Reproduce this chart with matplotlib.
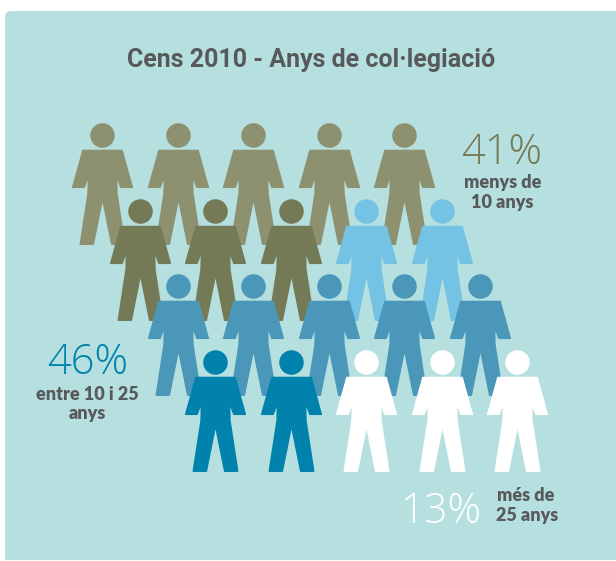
import matplotlib
matplotlib.use('Agg')
from matplotlib import pyplot as plt
from matplotlib.markers import MarkerStyle
from matplotlib.patches import FancyBboxPatch, Rectangle
from matplotlib.path import Path
from matplotlib.transforms import IdentityTransform

W, H = 616, 561

# rows of people, one colour per person, front row last
row_light_olive = ['#8e9170'] * 5
row_mixed = ['#747a56'] * 3 + ['#75c3e4'] * 2
row_mid_blue = ['#4a97ba'] * 5
row_front = ['#0082ac'] * 2 + ['#ffffff'] * 3
rows = [row_light_olive, row_mixed, row_mid_blue, row_front]

title = 'Cens 2010 - Anys de col·legiació'
pct_labels = ['41%', '46%', '13%']
pct_colors = ['#747a56', '#0082ac', '#ffffff']


def person_marker():
    # outline in pixels around the middle of the figure, y pointing up
    right = [(19.6, 34), (29.8, -2.8), (18.4, -2.8), (14, 9), (14.4, -9), (22.2, -59.7), (9.2, -59.7)]
    left = [(-x, y) for x, y in reversed(right)]
    body = Path(right + [(0, -14)] + left + [right[0]], closed=True)
    head = Path.circle((0, 49), 11.5)
    return Path.make_compound_path(body, head)


fig = plt.figure(figsize=(W / 100, H / 100), dpi=100, facecolor='white')
ax = fig.add_axes([0, 0, 1, 1])
# one unit is one column / one row of the grid
ax.set_xlim(-102 / 75.5, (W - 102) / 75.5)
ax.set_ylim((H - 184) / 75.7, -184 / 75.7)
ax.axis('off')

# panel in pixels from the lower left, only the top corners are rounded
panel_top = FancyBboxPatch((11, 1), 700, H - 18, boxstyle='round,pad=6,rounding_size=6',
                           fc='#b5e0df', ec='none', transform=IdentityTransform(), zorder=0)
panel_low = Rectangle((5, 1), 700, 40, fc='#b5e0df', ec='none', transform=IdentityTransform(), zorder=0)
white_low = Rectangle((0, 0), W, 1, fc='white', ec='none', transform=IdentityTransform(), zorder=0.5)
ax.add_patch(panel_top)
ax.add_patch(panel_low)
ax.add_patch(white_low)

marker = MarkerStyle(person_marker())
for r, colors in enumerate(rows):
    for c, color in enumerate(colors):
        ax.scatter(c + r * 0.5, r, s=87.12 ** 2, marker=marker, color=color, edgecolors=color,
                   linewidths=1.1, joinstyle='round', zorder=r + 1)


def put(x, y, s, **kw):
    fig.text(x / W, 1 - y / H, s, ha='center', va='baseline', **kw)


def note(x, y, s):
    put(x, y, s, family='Lato', weight='heavy', fontsize=13, color=dark)


def big(x, y, s, color):
    put(x, y, s, family='Open Sans', weight='light', fontsize=30, color=color)


dark = '#58595b'
put(311, 67.5, title, family='Roboto', weight='bold', fontsize=18, color=dark)

big(502, 164, pct_labels[0], pct_colors[0])
note(502.5, 188.5, 'menys de')
note(502.5, 208.5, '10 anys')

big(87.5, 374, pct_labels[1], pct_colors[1])
note(87, 399.5, 'entre 10 i 25')
note(87, 419.5, 'anys')

big(441, 523, pct_labels[2], pct_colors[2])
note(526, 501, 'més de')
note(527, 521.5, '25 anys')

plt.savefig('out.png', dpi=100)
